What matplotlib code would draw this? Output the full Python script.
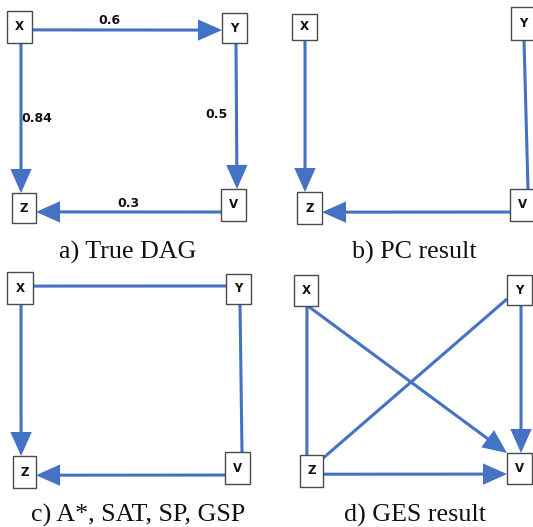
import matplotlib
matplotlib.use("Agg")
import matplotlib.pyplot as plt
from matplotlib.patches import Rectangle, FancyArrowPatch

W, H = 533, 527
BLUE = "#4472C4"
EDGE_GRAY = "#4a4a4a"

# Node boxes per panel: name -> (left, top, width, height) in pixel units
nodes_a = {"X": (7, 11, 25, 32), "Y": (222, 13, 25, 30),
           "Z": (12, 193, 24, 30), "V": (221, 189, 25, 32)}
nodes_b = {"X": (292, 14, 25, 26), "Y": (511, 7, 25, 33),
           "Z": (297, 192, 25, 32), "V": (510, 189, 25, 32)}
nodes_c = {"X": (7, 272, 26, 32), "Y": (226, 274, 25, 30),
           "Z": (13, 456, 23, 32), "V": (225, 452, 25, 32)}
nodes_d = {"X": (294, 275, 24, 31), "Y": (507, 275, 25, 30),
           "Z": (300, 455, 23, 32), "V": (507, 453, 25, 31)}

# Edges: (source, target, directed, weight, source port, target port)
# ports are fractions (u, v) across each box
edges_a = [("X", "Y", True, 0.6, (1, 0.59), (0, 0.57)),
           ("X", "Z", True, 0.84, (0.56, 1), (0.375, 0)),
           ("Y", "V", True, 0.5, (0.56, 1), (0.64, 0)),
           ("V", "Z", True, 0.3, (0, 0.72), (1, 0.63))]
edges_b = [("X", "Z", True, None, (0.52, 1), (0.32, 0)),
           ("Y", "V", False, None, (0.52, 1), (0.72, 0)),
           ("V", "Z", True, None, (0, 0.72), (1, 0.63))]
edges_c = [("X", "Y", False, None, (1, 0.44), (0, 0.4)),
           ("X", "Z", True, None, (0.54, 1), (0.35, 0)),
           ("Y", "V", False, None, (0.56, 1), (0.68, 0)),
           ("V", "Z", True, None, (0, 0.72), (1, 0.6))]
edges_d = [("X", "Z", False, None, (0.54, 1), (0.3, 0)),
           ("X", "V", True, None, (0.58, 1), (0, 0)),
           ("Y", "Z", False, None, (0, 0.8), (1, 0.1)),
           ("Y", "V", True, None, (0.56, 1), (0.56, 0)),
           ("Z", "V", True, None, (1, 0.6), (0, 0.68))]

captions = ["a) True DAG", "b) PC result", "c) A*, SAT, SP, GSP", "d) GES result"]
caption_pos = [(128, 258.5), (414, 258.5), (138, 522), (414.5, 522)]

# Offsets of weight labels from the edge midpoint
label_offset = {("X", "Y"): (-18, -9), ("X", "Z"): (16, 1),
                ("Y", "V"): (-20, -2), ("V", "Z"): (0, -8)}


def port_xy(box, port):
    u, v = port
    x0, y0, w, h = box
    return x0 + u * w, y0 + v * h


fig = plt.figure(figsize=(W / 100, H / 100), dpi=100)
ax = fig.add_axes([0, 0, 1, 1])
ax.set_xlim(0, W)
ax.set_ylim(H, 0)
ax.axis("off")

panels = [(nodes_a, edges_a), (nodes_b, edges_b), (nodes_c, edges_c), (nodes_d, edges_d)]

for (nodes, edges), cap, cpos in zip(panels, captions, caption_pos):
    for src, dst, directed, weight, ps, pd in edges:
        p0 = port_xy(nodes[src], ps)
        p1 = port_xy(nodes[dst], pd)
        style = "-|>,head_length=1.35,head_width=0.6" if directed else "-"
        arr = FancyArrowPatch(p0, p1, arrowstyle=style, mutation_scale=10,
                              color=BLUE, lw=2.2, shrinkA=0, shrinkB=0,
                              capstyle="butt", joinstyle="miter", zorder=2)
        ax.add_patch(arr)
        if weight is not None:
            dx, dy = label_offset[(src, dst)]
            mx, my = (p0[0] + p1[0]) / 2 + dx, (p0[1] + p1[1]) / 2 + dy
            ax.text(mx, my, f"{weight:g}", ha="center", va="center",
                    fontsize=9, fontweight="bold", color="#111111",
                    family="DejaVu Sans", zorder=4)
    for name, (x0, y0, w, h) in nodes.items():
        ax.add_patch(Rectangle((x0, y0), w, h, facecolor="white",
                               edgecolor=EDGE_GRAY, lw=1.0, zorder=3))
        ax.text(x0 + w / 2, y0 + h / 2, name, ha="center", va="center",
                fontsize=8.5, fontweight="bold", color="#111111",
                family="DejaVu Sans", zorder=4)
    ax.text(cpos[0], cpos[1], cap, ha="center", va="baseline",
            fontsize=18.7, family="Liberation Serif", color="#111111")

fig.savefig("out.png", dpi=100)
